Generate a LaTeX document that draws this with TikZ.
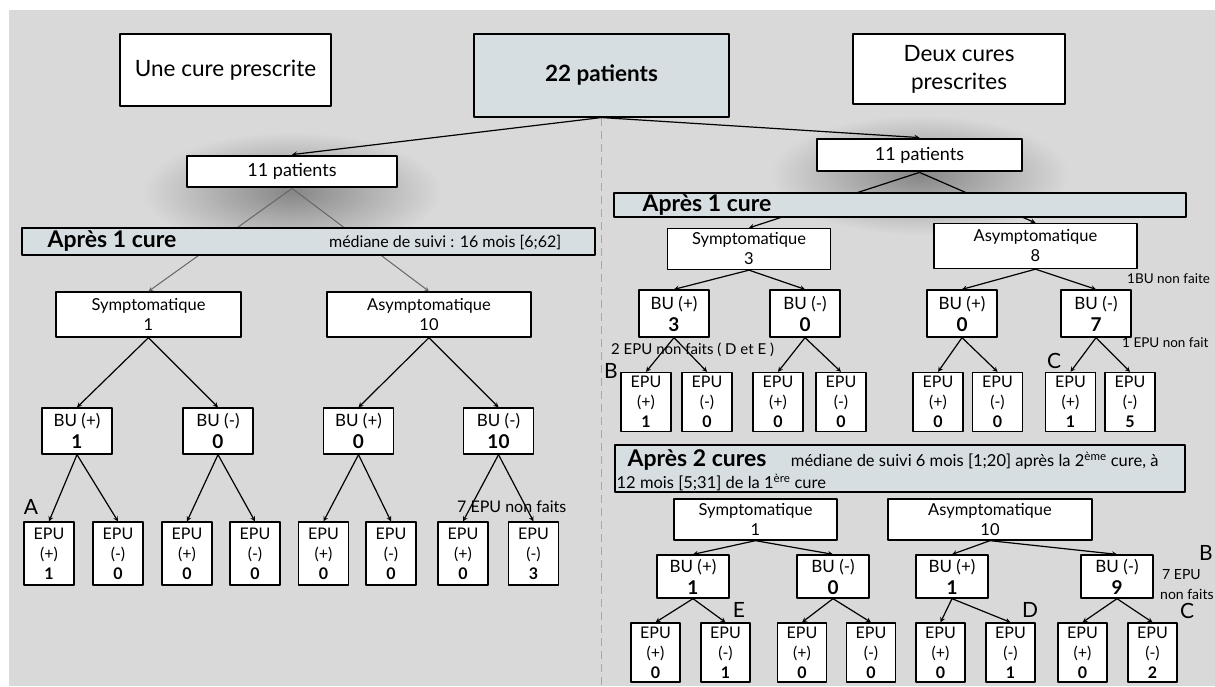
\documentclass[tikz,border=0pt]{standalone}
\usepackage{fontspec}
\setmainfont{Lato}
\definecolor{fondgris}{HTML}{D9D9D9}
\definecolor{bleugris}{HTML}{D7DEE2}
\definecolor{tiret}{HTML}{9DABB8}
\tikzset{
  boite/.style={draw, fill=white, line width=1.3pt, align=center, inner sep=0pt},
  cadre/.style={boite, line width=2.8pt},
  bande/.style={draw, fill=bleugris, line width=1.1pt, inner sep=0pt, align=center},
  etat/.style={boite, minimum height=43pt, font=\fontsize{16.5}{20}\selectfont},
  bu/.style={boite, minimum width=70pt, minimum height=46pt, font=\fontsize{17}{22}\selectfont},
  epu/.style={boite, minimum width=50pt, minimum height=61pt, font=\fontsize{16}{20}\selectfont},
  fleche/.style={->, line width=1.2pt},
  titre/.style={inner sep=0pt, font=\fontsize{23}{26}\selectfont\bfseries},
  note/.style={inner sep=0pt, font=\fontsize{15}{18}\selectfont},
  lettre/.style={inner sep=0pt, font=\fontsize{21}{21}\selectfont},
}
\newcommand{\chiffre}[1]{{\fontsize{19}{20}\selectfont\bfseries #1}}
\begin{document}
\begin{tikzpicture}[>=stealth, line join=round, x=1pt, y=-1pt]
% khung nen
\useasboundingbox (0,0) rectangle (1215,686);
\fill[fondgris] (9,10) rectangle (1215,686);
% bong mo duoi 2 o "11 patients"
\shade[inner color=black!38!fondgris, outer color=fondgris] (292,192) ellipse (150pt and 60pt);
\shade[inner color=black!38!fondgris, outer color=fondgris] (919.5,175) ellipse (150pt and 60pt);

% 3 o tren cung
\node[cadre, minimum width=211pt, minimum height=72pt, font=\fontsize{22.5}{28}\selectfont] (une) at (225.5,70) {Une cure prescrite};
\node[bande, minimum width=255pt, minimum height=83pt, font=\fontsize{22.5}{26}\selectfont\bfseries] (total) at (601.5,75.5) {22 patients};
\node[cadre, minimum width=212pt, minimum height=70pt, font=\fontsize{22.5}{28}\selectfont] (deux) at (959,69) {Deux cures\\prescrites};

% duong net dut chia doi
\coordinate (bas) at (601.5,686);
\draw[tiret, line width=1.2pt, dash pattern=on 8pt off 5pt] (total.south) -- (bas);

% 11 patients
\node[cadre, minimum width=210pt, minimum height=31pt, font=\fontsize{18}{22}\selectfont] (pL) at (292,171.5) {11 patients};
\node[cadre, minimum width=205pt, minimum height=32pt, font=\fontsize{18}{22}\selectfont] (pR) at (919.5,155) {11 patients};
\draw[fleche] (total.south) -- (pL.north);
\draw[fleche] (total.south) -- (pR.north);

% ben trai: une cure
\node[etat, minimum width=185pt, minimum height=45pt] (symL) at (148.5,314.5) {Symptomatique\\1};
\node[etat, minimum width=204pt, minimum height=45pt] (asyL) at (429,314.5) {Asymptomatique\\10};
\draw[fleche, line width=1pt, black!60] (pL.south) -- (symL.north);
\draw[fleche, line width=1pt, black!60] (pL.south) -- (asyL.north);
\foreach \n/\x/\s/\v in {1/77/+/1, 2/218/-/0, 3/358.5/+/0, 4/498.5/-/10}
  \node[bu] (buL\n) at (\x,431) {BU (\s)\\\chiffre{\v}};
\foreach \n/\x/\s/\v in {1/49/+/1, 2/118/-/0, 3/187/+/0, 4/255/-/0, 5/323.5/+/0, 6/391/-/0, 7/463/+/0, 8/533.5/-/3}
  \node[epu, minimum height=63pt] (eL\n) at (\x,553.5) {EPU\\(\s)\\\textbf{\v}};
\foreach \p/\e in {symL/buL1, symL/buL2, asyL/buL3, asyL/buL4, buL1/eL1, buL1/eL2, buL2/eL3, buL2/eL4, buL3/eL5, buL3/eL6, buL4/eL7, buL4/eL8}
  \draw[fleche] (\p.south) -- (\e.north);

% ben phai: deux cures, apres 1 cure
\node[etat, minimum width=163pt, minimum height=41pt] (symR) at (749,249) {Symptomatique\\3};
\node[etat, minimum width=203pt, minimum height=45pt] (asyR) at (1035.5,246) {Asymptomatique\\8};
\foreach \n/\x/\s/\v in {1/674/+/3, 2/805/-/0, 3/962/+/0, 4/1096/-/7}
  \node[bu, minimum height=47pt] (buR\n) at (\x,313.5) {BU (\s)\\\chiffre{\v}};
\foreach \n/\x/\s/\v in {1/646/+/1, 2/707/-/0, 3/778/+/0, 4/841/-/0, 5/938/+/0, 6/997.5/-/0, 7/1070.5/+/1, 8/1130/-/5}
  \node[epu, minimum height=59pt] (eR\n) at (\x,402) {EPU\\(\s)\\\textbf{\v}};
\foreach \p/\e in {pR/symR, pR/asyR, symR/buR1, symR/buR2, asyR/buR3, asyR/buR4, buR1/eR1, buR1/eR2, buR2/eR3, buR2/eR4, buR3/eR5, buR3/eR6, buR4/eR7, buR4/eR8}
  \draw[fleche] (\p.south) -- (\e.north);

% ben phai: apres 2 cures
\node[etat, minimum width=163pt, minimum height=41pt] (symS) at (755.5,519.5) {Symptomatique\\1};
\node[etat, minimum width=204pt, minimum height=41pt] (asyS) at (990,519.5) {Asymptomatique\\10};
\foreach \n/\x/\s/\v in {1/693/+/1, 2/833/-/0, 3/952/+/1, 4/1117/-/9}
  \node[bu, minimum width=72pt, minimum height=43pt] (buS\n) at (\x,576.5) {BU (\s)\\\chiffre{\v}};
\foreach \n/\x/\s/\v in {1/655.5/+/0, 2/725.5/-/1, 3/802/+/0, 4/871/-/0, 5/940.5/+/0, 6/1010.5/-/1, 7/1082.5/+/0, 8/1152.5/-/2}
  \node[epu, minimum width=49pt, minimum height=59pt] (eS\n) at (\x,652.5) {EPU\\(\s)\\\textbf{\v}};
\foreach \p/\e in {symS/buS1, symS/buS2, asyS/buS3, asyS/buS4, buS1/eS1, buS1/eS2, buS2/eS3, buS2/eS4, buS3/eS5, buS3/eS6, buS4/eS7, buS4/eS8}
  \draw[fleche] (\p.south) -- (\e.north);

% cac dai "Apres ..." (ve sau de che mui ten)
\node[bande, minimum width=573pt, minimum height=27pt] (barL) at (308.5,241.5) {};
\node[titre, anchor=west] (tL) at ([xshift=26pt]barL.west) {Après 1 cure};
\node[note, font=\fontsize{16}{18}\selectfont, anchor=east] (mL) at ([xshift=-34pt,yshift=-1pt]barL.east) {médiane de suivi : 16 mois [6;62]};
\node[bande, minimum width=572pt, minimum height=24pt] (barR) at (900,205) {};
\node[titre, anchor=west] (tR) at ([xshift=29pt]barR.west) {Après 1 cure};
\node[bande, minimum width=570pt, minimum height=47pt] (barS) at (900,468.5) {};
\node[titre, anchor=west] (tS) at ([xshift=13pt,yshift=8pt]barS.west) {Après 2 cures};
\node[note, font=\fontsize{16.5}{18}\selectfont, anchor=west] (mS) at ([xshift=24pt]tS.east) {médiane de suivi 6 mois [1;20] après la 2\textsuperscript{ème} cure, à};
\node[note, font=\fontsize{16.5}{18}\selectfont, anchor=west] (mS2) at ([xshift=2pt,yshift=-14pt]barS.west) {12 mois [5;31] de la 1\textsuperscript{ère} cure};

% chu thich
\node[lettre] (A) at (31,507) {A};
\node[note, font=\fontsize{16}{18}\selectfont, anchor=west] (nL) at (457,507) {7 EPU non faits};
\node[note, anchor=west] (n1) at (611,350) {2 EPU non faits ( D et E )};
\node[lettre] (B1) at (611,371) {B};
\node[note, font=\fontsize{13.5}{16}\selectfont, anchor=west] (n2) at (1127,279) {1BU non faite};
\node[note, font=\fontsize{13.5}{16}\selectfont, anchor=west] (n3) at (1122,343) {1 EPU non fait};
\node[lettre] (C1) at (1054,361) {C};
\node[lettre] (E) at (739,610) {E};
\node[lettre] (D) at (1030,610) {D};
\node[lettre] (C2) at (1187,611) {C};
\node[lettre] (B2) at (1206,553) {B};
\node[note, font=\fontsize{14}{16}\selectfont, anchor=west] (n4) at (1162,575) {7 EPU};
\node[note, font=\fontsize{14}{16}\selectfont, anchor=west] (n5) at (1160,594) {non faits};
\end{tikzpicture}
\end{document}
